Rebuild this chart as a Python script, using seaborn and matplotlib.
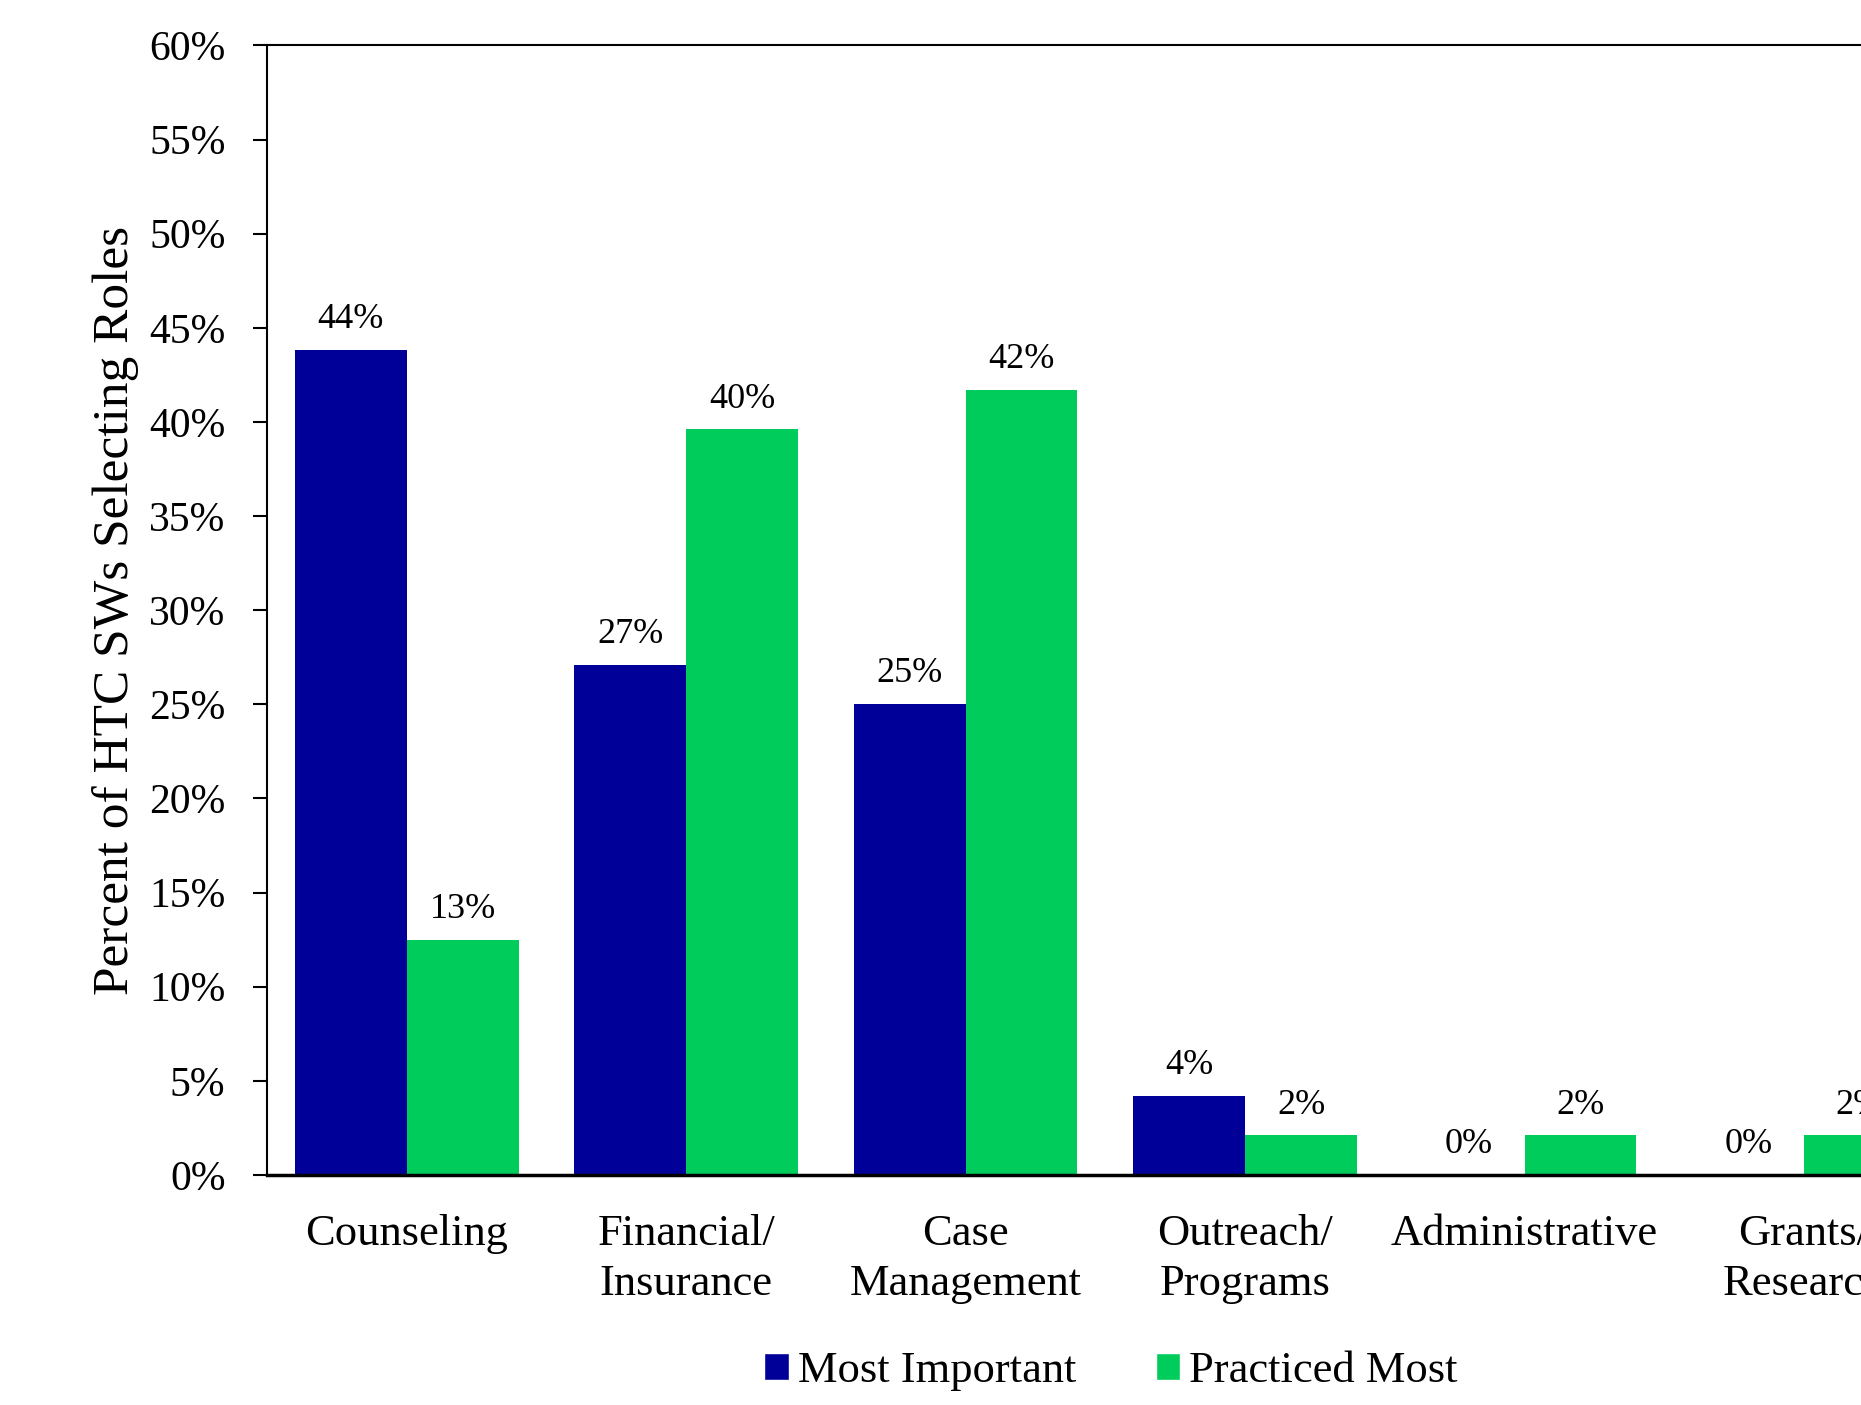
import matplotlib
matplotlib.use("Agg")
import matplotlib.pyplot as plt
import pandas as pd
import seaborn as sns
from matplotlib.patches import Patch
from matplotlib.ticker import FuncFormatter, MultipleLocator

# values (percent)
roles = ["Counseling", "Financial/\nInsurance", "Case\nManagement",
         "Outreach/\nPrograms", "Administrative", "Grants/\nResearch"]
most_important = [43.8, 27.1, 25.0, 4.2, 0.0, 0.0]
practiced_most = [12.5, 39.6, 41.7, 2.1, 2.1, 2.1]
series = ["Most Important", "Practiced Most"]
colors = ["#000099", "#00CC5C"]

df = pd.DataFrame({
    "role": roles * 2,
    "series": [series[0]] * len(roles) + [series[1]] * len(roles),
    "pct": most_important + practiced_most,
})

sns.set_style("white")
plt.rcParams["font.family"] = ["Liberation Serif", "DejaVu Serif"]
plt.rcParams["text.color"] = "black"
plt.rcParams["xtick.color"] = "black"
plt.rcParams["ytick.color"] = "black"
plt.rcParams["axes.labelcolor"] = "black"

fig = plt.figure(figsize=(18.61, 14.05), dpi=100)
# axes runs past the right edge, as in the (cropped) reference
ax = fig.add_axes([0.1435, 0.1637, 0.901, 0.804])

sns.barplot(data=df, x="role", y="pct", hue="series", hue_order=series,
            palette=colors, width=0.8, saturation=1, legend=False,
            linewidth=0, ax=ax)

for container in ax.containers:
    labels = [f"{int(b.get_height() + 0.5)}%" for b in container]
    ax.bar_label(container, labels=labels, padding=10, fontsize=26)

ax.set_ylim(0, 60)
ax.yaxis.set_major_locator(MultipleLocator(5))
ax.yaxis.set_major_formatter(FuncFormatter(lambda v, _: f"{v:.0f}%"))
ax.tick_params(axis="y", labelsize=30, length=10, width=1.5, pad=20,
               left=True, direction="out")
ax.tick_params(axis="x", labelsize=32, length=0, pad=28)
for lbl in ax.get_xticklabels():
    lbl.set_linespacing(1.33)

ax.set_xlabel("")
ax.set_ylabel("Percent of HTC SWs Selecting Roles", fontsize=37, labelpad=7)

for side in ["left", "top", "bottom"]:
    ax.spines[side].set_visible(True)
    ax.spines[side].set_color("black")
ax.spines["left"].set_linewidth(1.5)
ax.spines["top"].set_linewidth(1.5)
ax.spines["bottom"].set_linewidth(2.5)
ax.spines["right"].set_visible(False)

handles = [Patch(facecolor=c, label=s) for c, s in zip(colors, series)]
fig.legend(handles=handles, loc="center", bbox_to_anchor=(0.597, 0.024),
           ncol=2, frameon=False, fontsize=32, handlelength=0.55,
           handleheight=0.55, handletextpad=0.2, columnspacing=1.8)

fig.savefig("out.png", dpi=100)
